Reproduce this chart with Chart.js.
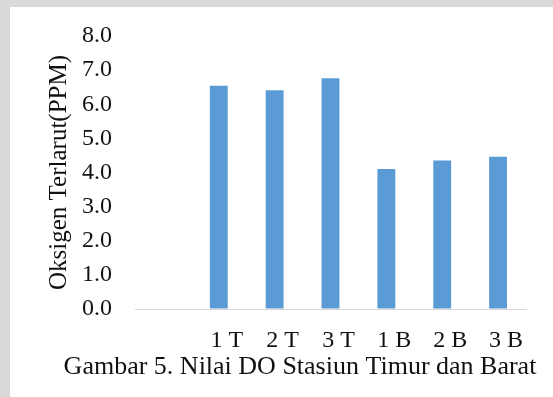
<!DOCTYPE html>
<html>
<head>
<meta charset="utf-8">
<script src="https://cdn.jsdelivr.net/npm/chart.js@4/dist/chart.umd.min.js"></script>
<style>
  html, body { margin: 0; padding: 0; width: 553px; height: 397px; overflow: hidden; background: #d9d9d9; }
  #wrap { position: absolute; left: 10px; top: 7px; width: 543px; height: 390px; background: #ffffff; }
  canvas { display: block; }
</style>
</head>
<body>
<div id="wrap"><canvas id="c" width="543" height="390"></canvas></div>
<script>
const categories = ['', '1 T', '2 T', '3 T', '1 B', '2 B', '3 B'];
const doValues = [null, 6.54, 6.41, 6.76, 4.10, 4.35, 4.46];
const yTitle = 'Oksigen Terlarut(PPM)';
const caption = 'Gambar 5. Nilai DO Stasiun Timur dan Barat';

const serif = "'Liberation Serif', 'Times New Roman', serif";
const textColor = '#111111';

new Chart(document.getElementById('c'), {
  type: 'bar',
  data: {
    labels: categories,
    datasets: [{
      data: doValues,
      backgroundColor: '#5b9bd5',
      borderWidth: 0,
      barPercentage: 0.32,
      categoryPercentage: 1.0
    }]
  },
  options: {
    responsive: false,
    animation: false,
    layout: { padding: { left: 37, right: 0, top: 29, bottom: 0 } },
    plugins: {
      legend: { display: false },
      tooltip: { enabled: false },
      title: {
        display: true,
        position: 'bottom',
        text: caption,
        color: textColor,
        font: { family: serif, size: 26, weight: 'normal', lineHeight: 1.0 },
        padding: { top: 0, bottom: 17 }
      }
    },
    scales: {
      x: {
        grid: { display: false, drawTicks: false },
        border: { display: true, color: '#d9d9d9', width: 1 },
        ticks: {
          color: textColor,
          font: { family: serif, size: 24, lineHeight: 1.0 },
          padding: 20,
          labelOffset: 8,
          maxRotation: 0,
          autoSkip: false
        },
        afterFit: (s) => { s.height = 45; }
      },
      y: {
        min: 0,
        max: 8,
        grid: { display: true, drawOnChartArea: false, drawTicks: true, tickLength: 23, color: 'rgba(0,0,0,0)' },
        border: { display: false },
        ticks: {
          stepSize: 1,
          color: textColor,
          font: { family: serif, size: 24 },
          padding: 0,
          callback: (v) => Number(v).toFixed(1)
        },
        title: {
          display: true,
          text: yTitle,
          color: textColor,
          font: { family: serif, size: 25, lineHeight: 1.0 },
          padding: { top: 0, bottom: 0 }
        },
        afterFit: (s) => { s.width = 88; }
      },
      y2: {
        position: 'right',
        display: true,
        grid: { display: false, drawTicks: false },
        border: { display: false },
        ticks: { display: false },
        afterFit: (s) => { s.width = 27; }
      }
    }
  }
});
</script>
</body>
</html>
